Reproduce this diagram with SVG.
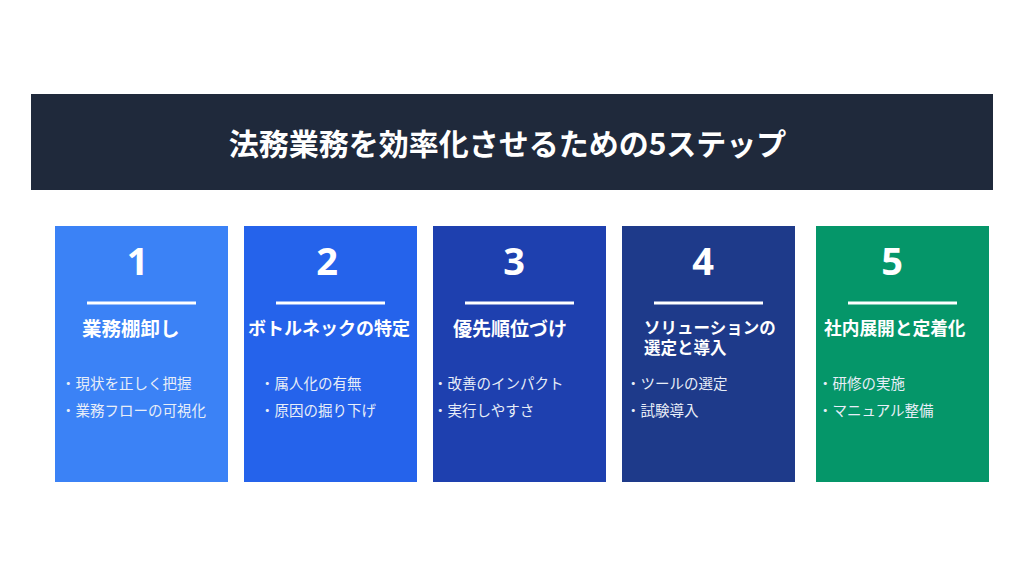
<svg xmlns="http://www.w3.org/2000/svg" width="1024" height="576" viewBox="0 0 1024 576">
<style>
.jp{font-family:"Noto Sans CJK JP","Noto Sans",sans-serif}
.head{font-size:30px;font-weight:700;fill:#ffffff}
.num{font-family:"Noto Sans","Open Sans",sans-serif;font-size:38px;font-weight:700;fill:#ffffff;text-anchor:middle}
.ttl{font-size:18px;font-weight:700;fill:#ffffff}
.bul{font-size:14.5px;fill:#e8eef8}
.rule{stroke:#ffffff;stroke-width:3}
</style>
<rect width="1024" height="576" fill="#ffffff"/>
<g id="header">
<rect x="31" y="94" width="962" height="96" fill="#1f293b"/>
<text class="jp head" x="507.5" y="155" text-anchor="middle">法務業務を効率化させるための5ステップ</text>
</g>
<g id="connectors"></g>
<g id="step1">
<rect x="55" y="226" width="173" height="256" fill="#3b82f6"/>
<text class="num" x="137.5" y="275">1</text>
<line class="rule" x1="87" y1="303" x2="196" y2="303"/>
<text class="jp ttl" x="82" y="336" style="font-size:19.5px">業務棚卸し</text>
<text class="jp bul" x="61" y="389">・現状を正しく把握</text>
<text class="jp bul" x="61" y="416">・業務フローの可視化</text>
</g>
<g id="step2">
<rect x="244" y="226" width="173" height="256" fill="#2563eb"/>
<text class="num" x="327" y="275">2</text>
<line class="rule" x1="276" y1="303" x2="385" y2="303"/>
<text class="jp ttl" x="248" y="335">ボトルネックの特定</text>
<text class="jp bul" x="260" y="389">・属人化の有無</text>
<text class="jp bul" x="260" y="416">・原因の掘り下げ</text>
</g>
<g id="step3">
<rect x="433" y="226" width="173" height="256" fill="#1e40af"/>
<text class="num" x="514" y="275">3</text>
<line class="rule" x1="465" y1="303" x2="574" y2="303"/>
<text class="jp ttl" x="453" y="336" style="font-size:19px">優先順位づけ</text>
<text class="jp bul" x="433" y="389">・改善のインパクト</text>
<text class="jp bul" x="433" y="416">・実行しやすさ</text>
</g>
<g id="step4">
<rect x="622" y="226" width="173" height="256" fill="#1e3a8a"/>
<text class="num" x="703" y="275">4</text>
<line class="rule" x1="654" y1="303" x2="763" y2="303"/>
<text class="jp ttl" x="644" y="334" style="font-size:16.5px">ソリューションの</text>
<text class="jp ttl" x="644" y="354" style="font-size:16.5px">選定と導入</text>
<text class="jp bul" x="626" y="389">・ツールの選定</text>
<text class="jp bul" x="626" y="416">・試験導入</text>
</g>
<g id="step5">
<rect x="816" y="226" width="173" height="256" fill="#059669"/>
<text class="num" x="892" y="275">5</text>
<line class="rule" x1="848" y1="303" x2="957" y2="303"/>
<text class="jp ttl" x="824" y="335" style="font-size:17.7px">社内展開と定着化</text>
<text class="jp bul" x="818" y="389">・研修の実施</text>
<text class="jp bul" x="818" y="416">・マニュアル整備</text>
</g>
</svg>
